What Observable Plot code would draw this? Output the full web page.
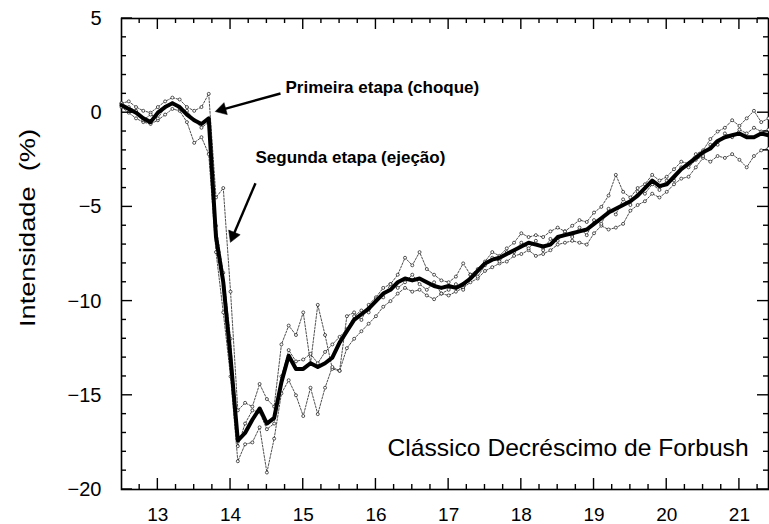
<!DOCTYPE html>
<html><head><meta charset="utf-8">
<script src="https://cdn.jsdelivr.net/npm/d3@7"></script>
<script src="https://cdn.jsdelivr.net/npm/@observablehq/plot@0.6"></script>
<style>html,body{margin:0;padding:0;background:#fff}</style>
</head><body><div id="chart"></div>
<script>
// Time (days), sampled every 0.1 day
const days = [
 12.5,12.6,12.7,12.8,12.9,13.0,13.1,13.2,13.3,13.4,
 13.5,13.6,13.7,13.8,13.9,14.0,14.1,14.2,14.3,14.4,
 14.5,14.6,14.7,14.8,14.9,15.0,15.1,15.2,15.3,15.4,
 15.5,15.6,15.7,15.8,15.9,16.0,16.1,16.2,16.3,16.4,
 16.5,16.6,16.7,16.8,16.9,17.0,17.1,17.2,17.3,17.4,
 17.5,17.6,17.7,17.8,17.9,18.0,18.1,18.2,18.3,18.4,
 18.5,18.6,18.7,18.8,18.9,19.0,19.1,19.2,19.3,19.4,
 19.5,19.6,19.7,19.8,19.9,20.0,20.1,20.2,20.3,20.4,
 20.5,20.6,20.7,20.8,20.9,21.0,21.1,21.2,21.3,21.4];

// Mean intensity (thick line), %
const mean = [
 0.4,0.2,0.0,-0.3,-0.5,0.0,0.3,0.5,0.3,-0.1,
 -0.4,-0.6,-0.3,-6.6,-9.0,-13.0,-17.4,-17.0,-16.3,-15.7,
 -16.5,-16.2,-14.3,-12.9,-13.6,-13.6,-13.3,-13.5,-13.3,-13.0,
 -12.2,-11.6,-11.0,-10.7,-10.4,-10.0,-9.6,-9.4,-9.0,-8.8,
 -8.9,-8.8,-9.0,-9.2,-9.3,-9.2,-9.3,-9.1,-8.8,-8.4,
 -8.0,-7.8,-7.7,-7.5,-7.3,-7.1,-6.9,-7.0,-7.1,-7.0,
 -6.6,-6.5,-6.4,-6.3,-6.2,-5.9,-5.6,-5.3,-5.1,-4.9,
 -4.7,-4.4,-4.0,-3.6,-3.9,-3.8,-3.4,-3.0,-2.7,-2.4,
 -2.1,-1.9,-1.5,-1.3,-1.2,-1.1,-1.3,-1.3,-1.1,-1.2];

// Individual monitors (thin dotted lines), %
const stationA = [
 0.5,0.6,0.3,0.1,0.0,0.3,0.6,0.8,0.7,0.3,
 0.1,0.3,1.0,-4.5,-4.0,-9.5,-15.8,-15.4,-15.6,-14.4,
 -15.2,-15.6,-12.3,-11.3,-11.8,-10.6,-13.3,-10.2,-11.8,-13.6,
 -13.7,-10.8,-10.6,-11.0,-10.2,-9.8,-9.3,-9.1,-8.6,-7.7,
 -8.1,-7.4,-8.3,-8.6,-8.9,-9.0,-8.7,-8.0,-8.6,-8.3,
 -7.9,-7.4,-7.6,-7.2,-6.9,-6.4,-6.6,-6.5,-6.6,-6.3,
 -6.1,-6.3,-6.0,-5.7,-5.8,-5.3,-5.0,-4.4,-3.3,-4.2,
 -4.5,-4.0,-3.8,-3.3,-3.6,-3.4,-3.0,-2.6,-2.7,-2.2,
 -2.0,-1.4,-1.0,-0.8,-0.4,-0.7,-0.3,0.1,-0.5,-0.3];
const stationB = [
 0.3,0.0,-0.3,-0.5,-0.6,-0.4,-0.1,0.2,0.1,-0.5,
 -1.6,-1.3,-2.2,-7.4,-10.6,-14.0,-18.5,-17.6,-17.5,-16.7,
 -19.1,-17.3,-14.9,-14.2,-15.0,-16.1,-14.6,-16.0,-14.6,-13.5,
 -13.7,-12.5,-12.0,-11.6,-11.2,-10.8,-10.3,-10.0,-9.6,-9.3,
 -9.5,-9.4,-9.7,-9.9,-9.6,-9.7,-9.5,-9.3,-9.0,-8.8,
 -8.4,-8.2,-8.0,-7.9,-7.6,-7.5,-7.3,-7.6,-7.5,-7.3,
 -7.0,-6.9,-6.8,-6.9,-7.0,-6.4,-6.0,-6.2,-6.1,-5.9,
 -5.2,-4.9,-4.7,-4.3,-4.5,-4.2,-3.8,-3.5,-3.4,-2.9,
 -2.4,-2.6,-2.3,-2.4,-2.2,-2.5,-2.9,-2.3,-2.0,-1.9];
const stationC = [
 0.5,0.3,0.1,-0.4,-0.1,-0.3,0.3,0.5,0.2,0.1,
 -0.4,-0.8,-0.5,-6.0,-8.5,-12.0,-17.7,-16.5,-15.8,-15.9,
 -16.8,-16.5,-14.0,-12.6,-13.2,-13.1,-12.8,-13.3,-12.7,-12.3,
 -11.9,-11.5,-10.8,-10.5,-10.6,-9.9,-9.8,-9.1,-9.3,-9.0,
 -8.6,-9.1,-9.4,-9.0,-9.6,-9.4,-9.1,-9.4,-8.6,-8.7,
 -8.1,-7.7,-7.9,-7.4,-7.4,-6.9,-7.2,-6.8,-7.3,-6.7,
 -6.8,-6.3,-6.6,-6.1,-6.5,-5.7,-5.9,-5.1,-5.4,-4.6,
 -4.9,-4.2,-4.3,-3.8,-4.1,-3.6,-3.6,-2.9,-2.9,-2.5,
 -2.3,-1.7,-1.7,-1.1,-1.3,-0.9,-1.1,-0.8,-1.0,-0.9];

// Tick values
const xTicks = [13, 14, 15, 16, 17, 18, 19, 20, 21];
const yTicks = [-20, -15, -10, -5, 0, 5];
const xMinor = d3.range(12.75, 21.4, 0.25).filter(v => !xTicks.includes(v));
const yMinor = d3.range(-19, 5, 1).filter(v => v % 5 !== 0);

// Texts
const yLabel = "Intensidade\u00a0 (%)";
const notes = [
  {text: "Primeira etapa (choque)", x: 14.756, y: 1.36},
  {text: "Segunda etapa (ejeção)", x: 14.343, y: -2.36}
];
const caption = {text: "Clássico Decréscimo de Forbush", x: 16.16, y: -17.79};
const arrowLines = [
  {x1: 14.687, y1: 1.02, x2: 13.885, y2: 0.165},
  {x1: 14.343, y1: -3.742, x2: 14.035, y2: -6.53}
];
const arrowHeads = [
  {x: 13.885, y: 0.165, angle: 254.5},
  {x: 14.035, y: -6.53, angle: 201.8}
];

const meanRows = days.map((t, i) => ({t, v: mean[i]}));
const thinRows = [["A", stationA], ["B", stationB], ["C", stationC]]
  .flatMap(([s, vals]) => days.map((t, i) => ({s, t, v: vals[i]})));

const xDomain = [12.5, 21.4], yDomain = [-20, 5];

const chart = Plot.plot({
  width: 769, height: 524,
  marginLeft: 121, marginRight: 1, marginTop: 18, marginBottom: 35,
  style: {fontFamily: "'Liberation Sans', Arial, sans-serif", color: "black", background: "white"},
  x: {domain: xDomain},
  y: {domain: yDomain},
  marks: [
    Plot.frame({stroke: "black", strokeWidth: 1.6}),
    Plot.line(thinRows, {x: "t", y: "v", z: "s", stroke: "#222", strokeWidth: 0.8, strokeDasharray: "2,1.5"}),
    Plot.dot(thinRows, {x: "t", y: "v", r: 1.5, fill: "white", stroke: "#111", strokeWidth: 0.7}),
    Plot.line(meanRows, {x: "t", y: "v", stroke: "black", strokeWidth: 4, strokeLinejoin: "round"}),
    Plot.axisX({anchor: "bottom", ticks: xTicks, tickSize: 0, tickPadding: 18, fontSize: 19, label: null, fill: "black"}),
    Plot.axisY({anchor: "left", ticks: yTicks, tickSize: 0, tickPadding: 20, fontSize: 20, label: null, fill: "black"}),
    Plot.text([yLabel], {text: d => d, frameAnchor: "left", dx: -94, dy: 73, rotate: -90, textAnchor: "start", fontSize: 22, fill: "black"}),
    Plot.link(arrowLines, {x1: "x1", y1: "y1", x2: "x2", y2: "y2", stroke: "black", strokeWidth: 2.4}),
    Plot.dot(arrowHeads, {x: "x", y: "y", r: 4.6, symbol: "triangle", rotate: "angle", fill: "black", stroke: "black", strokeWidth: 0.5}),
    Plot.text(notes, {x: "x", y: "y", text: "text", textAnchor: "start", fontSize: 17, fontWeight: "bold", fill: "black"}),
    Plot.text([caption], {x: "x", y: "y", text: "text", textAnchor: "start", fontSize: 24, fill: "black"})
  ]
});
document.getElementById("chart").append(chart);
chart.querySelectorAll("text").forEach(t => {
  if (t.textContent === yLabel) { t.setAttribute("textLength", "198"); t.setAttribute("lengthAdjust", "spacingAndGlyphs"); }
  if (t.textContent === caption.text) { t.setAttribute("textLength", "361"); t.setAttribute("lengthAdjust", "spacingAndGlyphs"); }
});

// Inward ticks on all four sides, positioned with the plot's own scales
const sx = chart.scale("x"), sy = chart.scale("y");
const [fx0, fx1] = sx.range, [fy0, fy1] = sy.range; // fy0 = bottom, fy1 = top
const tg = d3.select(chart).append("g").attr("stroke", "black").attr("stroke-width", 1.4);
[[xTicks, 11], [xMinor, 5]].forEach(([ts, len]) => ts.forEach(t => {
  const px = sx.apply(t);
  tg.append("line").attr("x1", px).attr("x2", px).attr("y1", fy0).attr("y2", fy0 - len);
  tg.append("line").attr("x1", px).attr("x2", px).attr("y1", fy1).attr("y2", fy1 + len);
}));
[[yTicks, 11], [yMinor, 5]].forEach(([ts, len]) => ts.forEach(t => {
  const py = sy.apply(t);
  tg.append("line").attr("y1", py).attr("y2", py).attr("x1", fx0).attr("x2", fx0 + len);
  tg.append("line").attr("y1", py).attr("y2", py).attr("x1", fx1).attr("x2", fx1 - len);
}));
</script>
</body></html>
